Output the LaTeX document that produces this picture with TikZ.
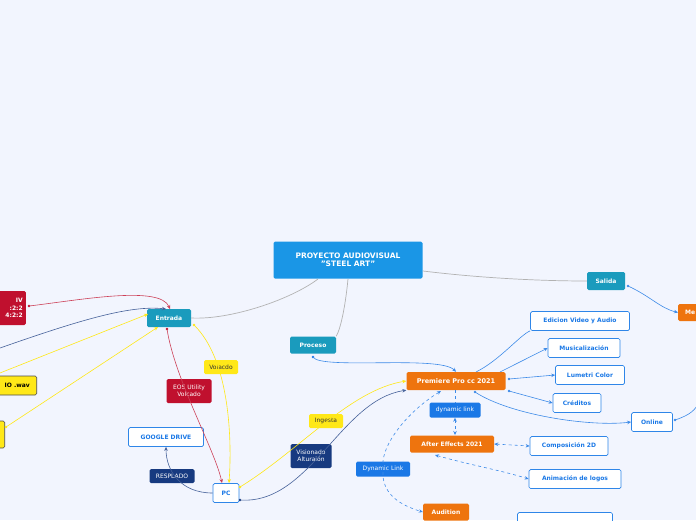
\documentclass[tikz,border=0pt]{standalone}
\usepackage{fontspec}
\setmainfont{DejaVu Sans}
\usetikzlibrary{arrows.meta}
\definecolor{bg}{HTML}{F2F5FE}
\definecolor{tblue}{HTML}{1A96E6}
\definecolor{teal}{HTML}{1A9BBD}
\definecolor{orng}{HTML}{EE740E}
\definecolor{lnk}{HTML}{1A78E6}
\definecolor{navy}{HTML}{173A80}
\definecolor{crim}{HTML}{C0102E}
\definecolor{yel}{HTML}{FFE818}
\definecolor{ebl}{HTML}{3D8BE8}
\definecolor{wbord}{HTML}{2F86E8}
\tikzset{
 x=1pt,y=-1pt,
 base/.style={rounded corners=1.5pt,font=\fontsize{6}{7.2}\selectfont\bfseries,inner sep=0pt,align=center},
 filled/.style={base,fill=#1,text=white},
 wbox/.style={base,fill=white,draw=wbord,line width=0.7pt,text=lnk},
 ybox/.style={base,fill=yel,text=black!80,font=\fontsize{6}{7.2}\selectfont},
 sbox/.style={base,fill=#1,text=white,font=\fontsize{6}{7.2}\selectfont},
 e/.style={draw=ebl,line width=0.6pt,-{Stealth[length=4pt,width=3.5pt]}},
 ed/.style={e,dashed},
 ar/.style={{Stealth[length=4pt,width=3.5pt]}-{Stealth[length=4pt,width=3.5pt]}},
 lbl/.style={font=\fontsize{6}{7.2}\selectfont\bfseries,inner sep=0pt,align=right,anchor=east},
}
\newcommand{\bx}[6]{\node[#1,minimum width=#4pt,minimum height=#5pt] (#2) at (#3) {#6};}
\begin{document}
\begin{tikzpicture}
\useasboundingbox (0,0) rectangle (696,520);
\clip (0,0) rectangle (696,520);
\fill[bg] (0,0) rectangle (696,520);
% nodes
\bx{filled=tblue,font=\fontsize{7.5}{8.5}\selectfont\bfseries}{title}{348,260}{149}{37}{PROYECTO AUDIOVISUAL\\"STEEL ART"}
\bx{filled=teal}{entrada}{169,318}{44}{18}{Entrada}
\bx{filled=teal}{proceso}{313,345}{46}{17}{Proceso}
\bx{filled=teal}{salida}{606,281}{38}{18}{Salida}
\bx{filled=orng,font=\fontsize{6.5}{7.5}\selectfont\bfseries}{prem}{456,381}{99}{18}{Premiere Pro cc 2021}
\bx{sbox=lnk}{dyn1}{455,410}{51}{15}{dynamic link}
\bx{filled=orng}{ae}{452,444}{84}{17}{After Effects 2021}
\bx{sbox=lnk}{dyn2}{383,469}{54}{15}{Dynamic Link}
\bx{filled=orng}{aud}{446,512}{46}{17}{Audition}
\bx{ybox}{ing}{326,421}{34}{14}{Ingesta}
\bx{sbox=navy}{vis}{311,456}{41}{24}{Visionado\\Alturaión}
\bx{wbox}{pc}{226,493}{26}{19}{PC}
\bx{wbox}{gd}{166,437}{75}{19}{GOOGLE DRIVE}
\bx{sbox=navy}{res}{172,476}{45}{14}{RESPLADO}
\bx{sbox=crim}{eos}{189,391}{45}{24}{EOS Utility\\Volcado}
\bx{ybox}{volc}{221,367}{34}{14}{Volacdo}
\bx{wbox}{edi}{580,321}{99}{19}{Edicion Video y Audio}
\bx{wbox}{mus}{584,348}{72}{19}{Musicalización}
\bx{wbox}{lum}{590,375}{69}{19}{Lumetri Color}
\bx{wbox}{cre}{577,403}{48}{19}{Créditos}
\bx{wbox}{onl}{652,422}{41}{19}{Online}
\bx{wbox}{comp}{569,446}{78}{19}{Composición 2D}
\bx{wbox}{anim}{575,479}{92}{19}{Animación de logos}
\bx{wbox}{bot}{565,522}{95}{19}{}
\node[filled=orng,minimum width=40pt,minimum height=17pt,anchor=west] (me) at (678,312.5) {};
\node[lbl,anchor=west,text=white] at (685,312.5) {Me};
\node[filled=crim,minimum width=50pt,minimum height=34pt,anchor=east] (red) at (26,308) {};
\node[lbl,text=white] at (23,308) {IV\\:2:2\\4:2:2};
\node[base,fill=yel,draw=black!70,line width=0.6pt,minimum width=80pt,minimum height=19pt,anchor=east] (wav) at (37,385.5) {};
\node[lbl,text=black] at (30,385.5) {IO .wav};
\node[base,fill=yel,draw=black!70,line width=0.6pt,minimum width=30pt,minimum height=27pt,anchor=east] (yl) at (5,434.5) {};
% grey trunk edges
\draw[gray!60,line width=0.7pt] (318,279) .. controls (290,300) and (230,320) .. (entrada.east);
\draw[gray!60,line width=0.7pt] (348,279) .. controls (345,310) and (340,330) .. (proceso.north east);
\draw[gray!60,line width=0.7pt] (423,271) .. controls (480,278) and (540,281) .. (salida.west);
% salida
\fill[ebl] (628,286) circle (1.3pt);
\draw[e] (628,286) .. controls (650,296) and (660,308) .. (me.west);
% proceso -> premiere
\fill[lnk] (313,357) circle (1.3pt);
\draw[e] (313,357) .. controls (320,370) and (440,355) .. (prem.north);
% premiere children
\draw[e,-] (476,372) .. controls (500,360) and (520,335) .. (edi.south west);
\draw[e] (500,372) -- (mus.west);
\fill[ebl] (509,379) circle (1.3pt); \draw[e] (509,379) -- (lum.west);
\fill[ebl] (509,391) circle (1.3pt); \draw[e] (509,391) -- (cre.west);
\fill[ebl] (475,392) circle (1.3pt);
\draw[e] (475,392) .. controls (510,415) and (590,427) .. (onl.west);
\fill[ebl] (675,420) circle (1.3pt);
\draw[ebl,line width=0.6pt] (675,420) .. controls (690,415) and (696,410) .. (700,400);
% dashed
\draw[ed,ar] (455,390) -- (dyn1) -- (455,435);
\draw[ed,ar] (ae.east) -- (comp.west);
\draw[ed,ar] (435,455) .. controls (470,465) and (500,470) .. (anim.west);
\draw[ed,ar] (441,391) .. controls (410,410) and (385,440) .. (dyn2.north) -- (dyn2.south) .. controls (385,495) and (400,505) .. (aud.west);
% PC etc
\fill[yel] (240,487) circle (1.3pt);
\draw[e,draw=yel] (240,487) .. controls (300,450) and (350,390) .. (prem.west);
\fill[navy] (240,500) circle (1.3pt);
\draw[e,draw=navy!80] (240,500) .. controls (310,505) and (340,400) .. (prem.south west);
\draw[e,draw=navy!80] (pc.west) .. controls (180,493) and (166,470) .. (gd.south);
\fill[crim] (167,329) circle (1.3pt);
\draw[e,draw=crim!80] (167,329) .. controls (175,380) and (215,450) .. (222,483);
\fill[yel] (194,325) circle (1.3pt);
\draw[e,draw=yel] (194,325) .. controls (230,360) and (232,440) .. (229,483);
% left edges
\fill[crim] (29,306) circle (1.3pt);
\draw[e,draw=crim!80] (29,306) .. controls (80,300) and (160,285) .. (170,309);
\draw[e,draw=navy!80] (0,348) .. controls (80,320) and (130,305) .. (166,309);
\draw[e,draw=yel] (0,373) -- (148,314);
\fill[yel] (6,427) circle (1.3pt);
\draw[e,draw=yel] (6,427) -- (158,327);
\end{tikzpicture}
\end{document}
